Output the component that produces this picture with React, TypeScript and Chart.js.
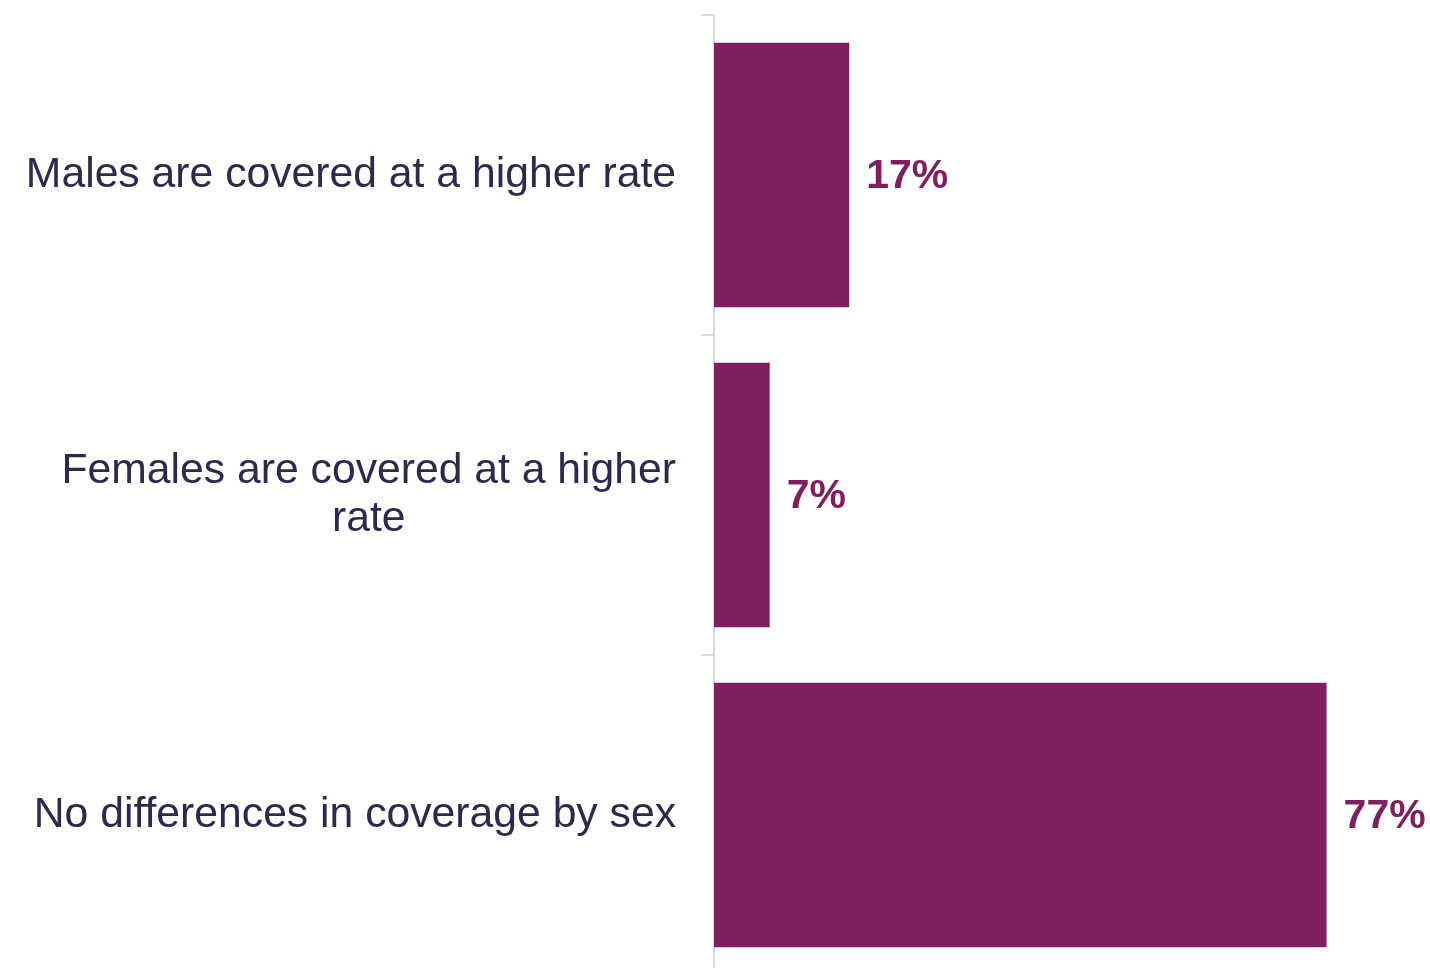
import React, { useEffect, useRef } from "react";
import { Chart, registerables } from "chart.js";

Chart.register(...registerables);

const categories: (string | string[])[] = [
  "Males are covered at a higher rate",
  ["Females are covered at a higher", "rate"],
  "No differences in coverage by sex",
];
const values: number[] = [17, 7, 77];
const valueLabels: string[] = ["17%", "7%", "77%"];

const BAR_COLOR = "#801f5e";
const TEXT_COLOR = "#2b2a4d";
const AXIS_COLOR = "#d9d6ea";
const FONT = "'Liberation Sans', Arial, sans-serif";
const LABEL_SIZE = 42.7;
const LINE_H = 48;
const LABEL_RIGHT_GAP = 38;

const valueLabelPlugin = {
  id: "valueLabels",
  afterDatasetsDraw(chart: any) {
    const ctx = chart.ctx;
    const meta = chart.getDatasetMeta(0);
    ctx.save();
    ctx.font = `bold 41px ${FONT}`;
    ctx.fillStyle = BAR_COLOR;
    ctx.textAlign = "left";
    ctx.textBaseline = "middle";
    meta.data.forEach((bar: any, i: number) => {
      ctx.fillText(valueLabels[i], bar.x + 17, bar.y + 2);
    });
    ctx.restore();
  },
};

const categoryLabelPlugin = {
  id: "categoryLabels",
  afterDraw(chart: any) {
    const ctx = chart.ctx;
    const yScale = chart.scales.y;
    const right = yScale.right - LABEL_RIGHT_GAP;
    ctx.save();
    ctx.font = `${LABEL_SIZE}px ${FONT}`;
    ctx.fillStyle = TEXT_COLOR;
    ctx.textAlign = "center";
    ctx.textBaseline = "middle";
    categories.forEach((label, i) => {
      const lines = Array.isArray(label) ? label : [label];
      const widest = Math.max(...lines.map((l) => ctx.measureText(l).width));
      const cx = right - widest / 2;
      const yc = yScale.getPixelForTick(i);
      lines.forEach((line, j) => {
        const y = yc - ((lines.length - 1) * LINE_H) / 2 + j * LINE_H;
        ctx.fillText(line, cx, y);
      });
    });
    ctx.restore();
  },
};

export default function App() {
  const ref = useRef<HTMLCanvasElement | null>(null);
  useEffect(() => {
    if (!ref.current) return;
    const chart = new Chart(ref.current, {
      type: "bar",
      data: {
        labels: categories,
        datasets: [
          {
            data: values,
            backgroundColor: BAR_COLOR,
            borderWidth: 0,
            barPercentage: 0.826,
            categoryPercentage: 1,
          },
        ],
      },
      options: {
        indexAxis: "y",
        animation: false,
        responsive: false,
        maintainAspectRatio: false,
        layout: { padding: { top: 15, right: 0, bottom: 0, left: 0 } },
        plugins: {
          legend: { display: false },
          tooltip: { enabled: false },
        },
        scales: {
          x: {
            display: false,
            min: 0,
            max: 90,
          },
          y: {
            afterFit(scale: any) {
              scale.width = 714;
              scale.paddingTop = 0;
              scale.paddingBottom = 0;
            },
            grid: {
              display: true,
              drawOnChartArea: false,
              drawTicks: true,
              tickLength: 13,
              color: AXIS_COLOR,
              lineWidth: 2,
              offset: true,
            },
            border: { display: true, color: AXIS_COLOR, width: 2 },
            ticks: {
              display: false,
              autoSkip: false,
            },
          },
        },
      },
      plugins: [valueLabelPlugin, categoryLabelPlugin],
    });
    return () => chart.destroy();
  }, []);
  return (
    <div
      style={{
        position: "fixed",
        left: 0,
        top: 0,
        width: 1430,
        height: 968,
        overflow: "hidden",
        background: "#ffffff",
      }}
    >
      <canvas ref={ref} width={1430} height={975} style={{ display: "block" }} />
    </div>
  );
}
